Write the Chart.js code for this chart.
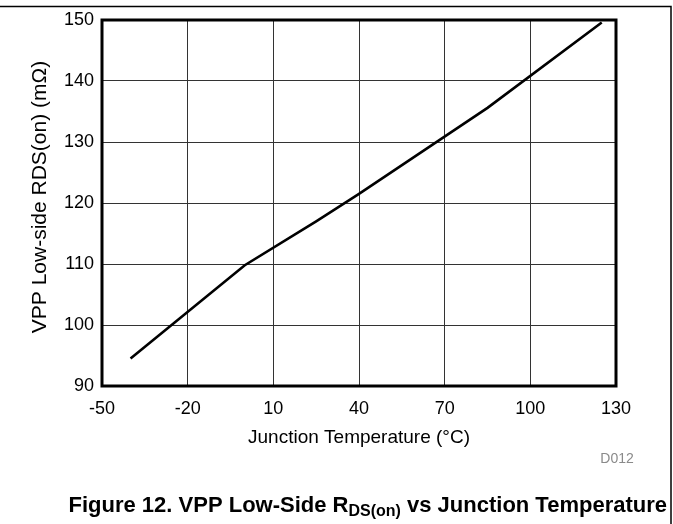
<!DOCTYPE html>
<html><head><meta charset="utf-8">
<script src="https://cdn.jsdelivr.net/npm/chart.js@4.4.1/dist/chart.umd.min.js"></script>
<style>html,body{margin:0;padding:0;background:#fff;overflow:hidden}</style>
</head><body>
<canvas id="c" width="673" height="524" style="display:block;width:673px;height:524px"></canvas>
<script>
// ---- data ----
const temperatures = [-40, 0, 25, 40, 85, 125];
const rdsOn = [94.5, 109.8, 117.0, 121.5, 135.6, 149.6];
const xTicks = [-50, -20, 10, 40, 70, 100, 130];
const yTicks = [90, 100, 110, 120, 130, 140, 150];
const xTitle = 'Junction Temperature (°C)';
const yTitle = 'VPP Low-side RDS(on) (mΩ)';
const figureCode = 'D012';
const captionMain = 'Figure 12. VPP Low-Side R';
const captionSub = 'DS(on)';
const captionTail = ' vs Junction Temperature';

const FONT = "'Liberation Sans', Arial, sans-serif";

const decor = {
  id: 'decor',
  afterDraw(chart) {
    const {ctx, chartArea: a} = chart;
    ctx.save();
    ctx.strokeStyle = '#000';
    ctx.lineWidth = 3;
    ctx.strokeRect(a.left, a.top, a.right - a.left, a.bottom - a.top);
    ctx.lineWidth = 1.5;
    ctx.beginPath();
    ctx.moveTo(0, 6.5); ctx.lineTo(671, 6.5); ctx.lineTo(671, 524);
    ctx.stroke();
    ctx.fillStyle = '#000';
    ctx.font = '21px ' + FONT;
    ctx.textAlign = 'center';
    ctx.textBaseline = 'middle';
    ctx.save();
    ctx.translate(40, 197);
    ctx.rotate(-Math.PI / 2);
    ctx.fillText(yTitle, 0, 0);
    ctx.restore();
    ctx.fillStyle = '#8a8a8a';
    ctx.font = '14px ' + FONT;
    ctx.textAlign = 'center';
    ctx.fillText(figureCode, 617, 459);
    ctx.fillStyle = '#000';
    const big = 'bold 22px ' + FONT, small = 'bold 16px ' + FONT;
    ctx.font = big; const w1 = ctx.measureText(captionMain).width;
    const w3 = ctx.measureText(captionTail).width;
    ctx.font = small; const w2 = ctx.measureText(captionSub).width;
    let x = 667 - (w1 + w2 + w3);
    ctx.textAlign = 'left';
    ctx.textBaseline = 'alphabetic';
    ctx.font = big; ctx.fillText(captionMain, x, 512); x += w1;
    ctx.font = small; ctx.fillText(captionSub, x, 516); x += w2;
    ctx.font = big; ctx.fillText(captionTail, x, 512);
    ctx.restore();
  }
};

new Chart(document.getElementById('c'), {
  type: 'line',
  data: {
    datasets: [{
      data: temperatures.map((t, i) => ({x: t, y: rdsOn[i]})),
      borderColor: '#000',
      borderWidth: 2.6,
      pointRadius: 0,
      tension: 0,
      fill: false
    }]
  },
  options: {
    responsive: false,
    devicePixelRatio: 1,
    animation: false,
    layout: {padding: {left: 0, right: 57, top: 20, bottom: 0}},
    plugins: {legend: {display: false}, tooltip: {enabled: false}},
    scales: {
      x: {
        type: 'linear', min: xTicks[0], max: xTicks[xTicks.length - 1],
        afterBuildTicks: s => { s.ticks = xTicks.map(v => ({value: v})); },
        afterFit: s => { s.height = 138; },
        grid: {color: '#333', lineWidth: 1, drawTicks: false},
        border: {display: false},
        ticks: {color: '#000', font: {family: FONT, size: 18}, padding: 12, maxRotation: 0, autoSkip: false},
        title: {display: true, text: xTitle, color: '#000', font: {family: FONT, size: 19}, padding: {top: 0, bottom: 75}}
      },
      y: {
        type: 'linear', min: yTicks[0], max: yTicks[yTicks.length - 1],
        afterBuildTicks: s => { s.ticks = yTicks.map(v => ({value: v})); },
        afterFit: s => { s.width = 102; },
        grid: {color: '#333', lineWidth: 1, drawTicks: false},
        border: {display: false},
        ticks: {color: '#000', font: {family: FONT, size: 18}, padding: 8, autoSkip: false}
      }
    }
  },
  plugins: [decor]
});
</script>
</body></html>
